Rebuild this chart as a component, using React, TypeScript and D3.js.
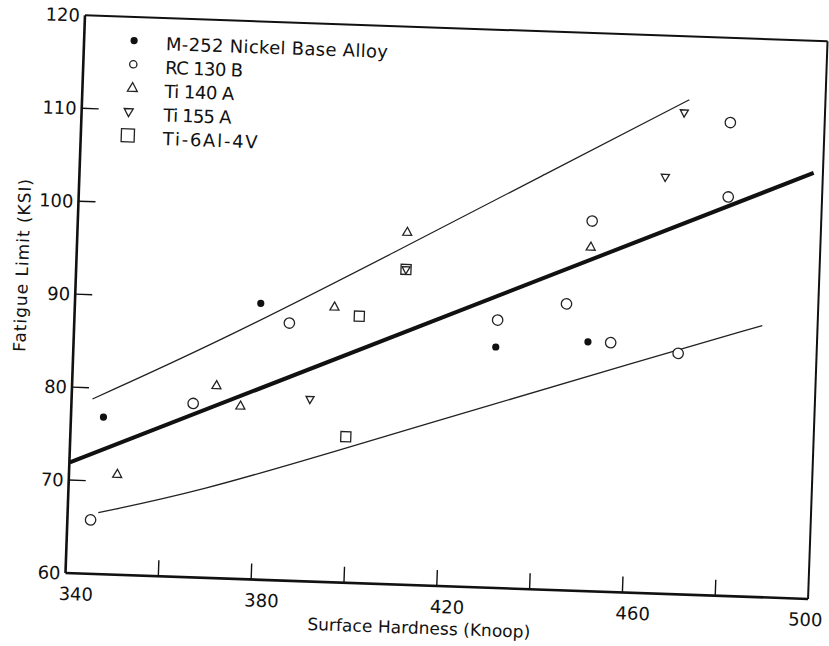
import React from "react";
import * as d3 from "d3";

// ---- data (Surface Hardness in Knoop, Fatigue Limit in KSI) ----
const m252: [number, number][] = [
  [347.0, 76.9], [380.0, 89.7], [430.9, 85.9], [450.7, 86.8],
];
const rc130b: [number, number][] = [
  [345.0, 65.8], [366.2, 78.7], [386.3, 87.7], [431.1, 88.8], [445.8, 90.8],
  [450.7, 99.8], [455.6, 86.8], [470.2, 85.9], [479.8, 102.9], [479.7, 110.9],
];
const ti140a: [number, number][] = [
  [350.4, 70.8], [371.1, 80.7], [376.4, 78.6], [395.9, 89.6], [411.0, 97.9], [450.6, 97.0],
];
const ti155a: [number, number][] = [
  [391.3, 79.6], [411.0, 93.9], [466.1, 104.8], [469.7, 111.8],
];
const ti6al4v: [number, number][] = [
  [401.3, 88.7], [411.0, 93.9], [399.3, 75.7],
];
const fitLine: [number, number][] = [[340.1, 71.9], [498.0, 105.8]];
const upperBand: [number, number][] = [
  [344.5, 78.8], [372.0, 85.6], [409.5, 96.0], [440.0, 104.6], [470.7, 113.2],
];
const lowerBand: [number, number][] = [
  [346.6, 66.6], [368.3, 69.3], [396.0, 73.9], [430.0, 79.6], [459.9, 84.6], [488.1, 89.2],
];
const xTicks = [340, 360, 380, 400, 420, 440, 460, 480, 500];
const xTickLabels = [340, 380, 420, 460, 500];
const yTicks = [60, 70, 80, 90, 100, 110, 120];
const legendLabels = [
  "M-252 Nickel Base Alloy",
  "RC 130 B",
  "Ti 140 A",
  "Ti 155 A",
  "Ti-6Al-4V",
];
const legendTypes = ["dot", "circle", "tri", "itri", "square"];
const xTitle = "Surface Hardness (Knoop)";
const yTitle = "Fatigue Limit (KSI)";

// ---- layout ----
const W = 829;
const H = 646;
const PW = 743;
const PH = 558;
const FONT = "'DejaVu Sans', 'Liberation Sans', sans-serif";

const x = d3.scaleLinear().domain([340, 500]).range([0, PW]);
const y = d3.scaleLinear().domain([60, 120]).range([0, -PH]);

function Marker({ type, cx, cy, s = 1 }: { type: string; cx: number; cy: number; s?: number }) {
  const sw = 1.3;
  if (type === "dot") return <circle cx={cx} cy={cy} r={3.6 * s} fill="#111" />;
  if (type === "circle")
    return <circle cx={cx} cy={cy} r={5.2 * s} fill="white" stroke="#222" strokeWidth={sw} />;
  if (type === "tri") {
    const hw = 4.5 * s;
    return (
      <path
        d={`M${cx},${cy - 5 * s}L${cx - hw},${cy + 3 * s}L${cx + hw},${cy + 3 * s}Z`}
        fill="white" stroke="#222" strokeWidth={sw}
      />
    );
  }
  if (type === "itri") {
    const hw = 4.5 * s;
    return (
      <path
        d={`M${cx - hw},${cy - 3 * s}L${cx + hw},${cy - 3 * s}L${cx},${cy + 5 * s}Z`}
        fill="none" stroke="#222" strokeWidth={sw}
      />
    );
  }
  const h = 5 * s;
  return (
    <rect x={cx - h} y={cy - h} width={2 * h} height={2 * h} fill="white" stroke="#222" strokeWidth={sw} />
  );
}

export default function App() {
  const line = d3.line<[number, number]>().x((d) => x(d[0])).y((d) => y(d[1]));
  const band = d3
    .line<[number, number]>()
    .x((d) => x(d[0]))
    .y((d) => y(d[1]))
    .curve(d3.curveBasis);

  const series: { type: string; data: [number, number][] }[] = [
    { type: "square", data: ti6al4v },
    { type: "circle", data: rc130b },
    { type: "tri", data: ti140a },
    { type: "itri", data: ti155a },
    { type: "dot", data: m252 },
  ];

  const legendWidths = [222, 78, 70, 68, 95];

  return (
    <svg
      width={W}
      height={H}
      style={{ position: "absolute", left: 0, top: 0, background: "white" }}
      fontFamily={FONT}
    >
      <rect width={W} height={H} fill="white" />
      <g transform="translate(65.5,573) rotate(2)">
        {/* frame */}
        <line x1={0} y1={-PH} x2={PW} y2={-PH} stroke="#111" strokeWidth={2} />
        <line x1={PW} y1={-PH} x2={PW} y2={0} stroke="#111" strokeWidth={2} />
        <line x1={0} y1={0} x2={PW} y2={0} stroke="#111" strokeWidth={2.6} />
        <line x1={0} y1={-PH} x2={0} y2={0} stroke="#111" strokeWidth={2.6} />
        {/* ticks */}
        {xTicks.slice(1, -1).map((t) => (
          <line key={"xt" + t} x1={x(t)} x2={x(t)} y1={0} y2={-16} stroke="#111" strokeWidth={1.4} />
        ))}
        {yTicks.slice(1, -1).map((t) => (
          <line key={"yt" + t} x1={0} x2={17} y1={y(t)} y2={y(t)} stroke="#111" strokeWidth={1.4} />
        ))}
        {/* tick labels */}
        {xTickLabels.map((t, i) => (
          <text
            key={"xl" + t}
            x={x(t) + (i === xTickLabels.length - 1 ? -2 : 11)}
            y={27}
            textAnchor="middle"
            fontSize={18}
            fill="#111"
          >
            {t}
          </text>
        ))}
        {yTicks.map((t) => (
          <text key={"yl" + t} x={-5} y={y(t) + 6.5} textAnchor="end" fontSize={18} fill="#111">
            {t}
          </text>
        ))}
        {/* axis titles */}
        <text
          x={355}
          y={48.5}
          textAnchor="middle"
          fontSize={17}
          fill="#111"
          textLength={223}
          lengthAdjust="spacing"
        >
          {xTitle}
        </text>
        <text
          transform={`translate(-48,${y(92.9)}) rotate(-90)`}
          textAnchor="middle"
          fontSize={17}
          fill="#111"
          textLength={173}
          lengthAdjust="spacing"
        >
          {yTitle}
        </text>
        {/* lines */}
        <path d={line(fitLine) || ""} fill="none" stroke="#111" strokeWidth={4} />
        <path d={band(upperBand) || ""} fill="none" stroke="#222" strokeWidth={1.3} />
        <path d={band(lowerBand) || ""} fill="none" stroke="#222" strokeWidth={1.3} />
        {/* points */}
        {series.map((s) =>
          s.data.map((d, i) => (
            <Marker key={s.type + i} type={s.type} cx={x(d[0])} cy={y(d[1])} s={s.type === "itri" ? 0.9 : 1} />
          ))
        )}
        {/* legend */}
        {legendLabels.map((lab, i) => {
          const base = -526 + i * 23.75;
          const t = legendTypes[i];
          const sc = t === "square" ? 1.3 : t === "tri" ? 1.1 : t === "circle" ? 0.7 : 1;
          return (
            <g key={"lg" + i}>
              <Marker type={t} cx={t === "itri" || t === "square" ? 47 : 50} cy={base - 8.5} s={sc} />
              <text
                x={82}
                y={base}
                fontSize={18}
                fill="#111"
                textLength={legendWidths[i]}
                lengthAdjust="spacing"
              >
                {lab}
              </text>
            </g>
          );
        })}
      </g>
    </svg>
  );
}
